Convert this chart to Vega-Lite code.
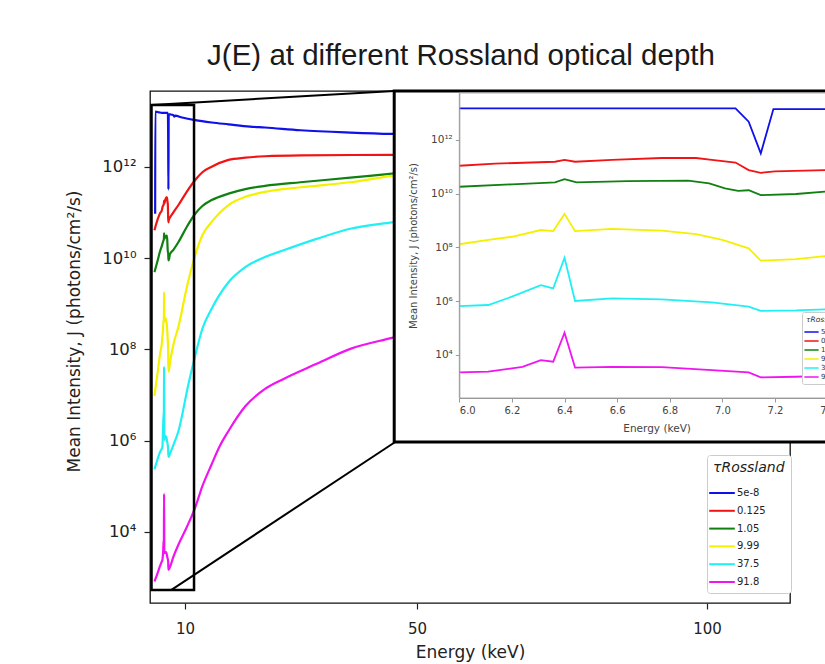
{
  "$schema": "https://vega.github.io/schema/vega-lite/v6.json",
  "width": 640,
  "height": 512,
  "autosize": {"type": "none"},
  "padding": {"left": 150, "top": 91, "right": 35, "bottom": 61},
  "background": "#ffffff",
  "config": {
    "font": "DejaVu Sans",
    "view": {"stroke": "#111111", "strokeWidth": 1.3, "fill": "#ffffff"},
    "axis": {"grid": false, "labelFont": "DejaVu Sans", "titleFont": "DejaVu Sans", "titleFontWeight": "normal", "labelColor": "#222222", "titleColor": "#222222", "tickColor": "#222222", "domainColor": "#222222"},
    "legend": {"labelFont": "DejaVu Sans", "titleFont": "DejaVu Sans"}
  },
  "title": {"text": "J(E) at different Rossland optical depth", "font": "Liberation Sans", "fontSize": 29.5, "fontWeight": "normal", "color": "#1a1a1a", "anchor": "middle", "frame": "group", "dx": -9, "offset": 18},
  "datasets": {
    "spectra": [
      {"tau": "5e-8", "E": 4.86, "J": 9.33e10}, {"tau": "5e-8", "E": 4.88, "J": 1.62e13}, {"tau": "5e-8", "E": 5.5, "J": 1.56e13}, {"tau": "5e-8", "E": 6.0, "J": 1.51e13}, {"tau": "5e-8", "E": 6.4, "J": 1.51e13}, {"tau": "5e-8", "E": 7.05, "J": 1.51e13}, {"tau": "5e-8", "E": 7.10, "J": 4.79e12}, {"tau": "5e-8", "E": 7.146, "J": 3.16e11}, {"tau": "5e-8", "E": 7.194, "J": 1.41e13}, {"tau": "5e-8", "E": 7.5, "J": 1.40e13}, {"tau": "5e-8", "E": 8.0, "J": 1.35e13}, {"tau": "5e-8", "E": 8.15, "J": 1.25e13}, {"tau": "5e-8", "E": 8.3, "J": 1.32e13}, {"tau": "5e-8", "E": 9.5, "J": 1.20e13}, {"tau": "5e-8", "E": 11.76, "J": 1.05e13}, {"tau": "5e-8", "E": 14.6, "J": 9.33e12}, {"tau": "5e-8", "E": 17.5, "J": 8.51e12}, {"tau": "5e-8", "E": 21.2, "J": 7.59e12}, {"tau": "5e-8", "E": 23.8, "J": 7.24e12}, {"tau": "5e-8", "E": 29.9, "J": 6.31e12}, {"tau": "5e-8", "E": 38.5, "J": 5.62e12}, {"tau": "5e-8", "E": 45.7, "J": 5.25e12}, {"tau": "5e-8", "E": 60, "J": 5.01e12},

      {"tau": "0.125", "E": 4.74, "J": 4.07e10}, {"tau": "0.125", "E": 5.3, "J": 7.08e10}, {"tau": "0.125", "E": 5.7, "J": 9.55e10}, {"tau": "0.125", "E": 6.0, "J": 1.10e11}, {"tau": "0.125", "E": 6.136, "J": 1.32e11}, {"tau": "0.125", "E": 6.364, "J": 1.55e11}, {"tau": "0.125", "E": 6.40, "J": 1.82e11}, {"tau": "0.125", "E": 6.44, "J": 1.55e11}, {"tau": "0.125", "E": 6.58, "J": 1.82e11}, {"tau": "0.125", "E": 6.77, "J": 2.14e11}, {"tau": "0.125", "E": 6.90, "J": 2.14e11}, {"tau": "0.125", "E": 6.96, "J": 1.82e11}, {"tau": "0.125", "E": 7.05, "J": 1.45e11}, {"tau": "0.125", "E": 7.10, "J": 7.59e10}, {"tau": "0.125", "E": 7.146, "J": 6.03e10}, {"tau": "0.125", "E": 7.2, "J": 6.76e10}, {"tau": "0.125", "E": 7.39, "J": 7.59e10}, {"tau": "0.125", "E": 8.0, "J": 1.0e11}, {"tau": "0.125", "E": 8.88, "J": 1.45e11}, {"tau": "0.125", "E": 10.3, "J": 2.82e11}, {"tau": "0.125", "E": 11.76, "J": 5.13e11}, {"tau": "0.125", "E": 13.0, "J": 7.59e11}, {"tau": "0.125", "E": 14.6, "J": 1.0e12}, {"tau": "0.125", "E": 17.5, "J": 1.41e12}, {"tau": "0.125", "E": 20.4, "J": 1.58e12}, {"tau": "0.125", "E": 23.8, "J": 1.70e12}, {"tau": "0.125", "E": 30, "J": 1.78e12}, {"tau": "0.125", "E": 45.7, "J": 1.82e12}, {"tau": "0.125", "E": 60, "J": 1.86e12},

      {"tau": "1.05", "E": 4.74, "J": 4.90e9}, {"tau": "1.05", "E": 5.3, "J": 8.91e9}, {"tau": "1.05", "E": 5.7, "J": 1.41e10}, {"tau": "1.05", "E": 6.0, "J": 1.82e10}, {"tau": "1.05", "E": 6.2, "J": 2.24e10}, {"tau": "1.05", "E": 6.364, "J": 2.63e10}, {"tau": "1.05", "E": 6.40, "J": 3.47e10}, {"tau": "1.05", "E": 6.446, "J": 2.63e10}, {"tau": "1.05", "E": 6.64, "J": 2.95e10}, {"tau": "1.05", "E": 6.87, "J": 3.09e10}, {"tau": "1.05", "E": 6.95, "J": 2.45e10}, {"tau": "1.05", "E": 7.01, "J": 1.58e10}, {"tau": "1.05", "E": 7.06, "J": 1.29e10}, {"tau": "1.05", "E": 7.10, "J": 1.35e10}, {"tau": "1.05", "E": 7.146, "J": 8.91e9}, {"tau": "1.05", "E": 7.28, "J": 9.77e9}, {"tau": "1.05", "E": 7.39, "J": 1.20e10}, {"tau": "1.05", "E": 8.0, "J": 1.51e10}, {"tau": "1.05", "E": 8.88, "J": 2.24e10}, {"tau": "1.05", "E": 10.3, "J": 4.79e10}, {"tau": "1.05", "E": 11.76, "J": 9.33e10}, {"tau": "1.05", "E": 13.0, "J": 1.38e11}, {"tau": "1.05", "E": 14.6, "J": 1.86e11}, {"tau": "1.05", "E": 17.5, "J": 2.57e11}, {"tau": "1.05", "E": 20.4, "J": 3.24e11}, {"tau": "1.05", "E": 23.8, "J": 3.80e11}, {"tau": "1.05", "E": 29.9, "J": 4.57e11}, {"tau": "1.05", "E": 38.5, "J": 5.75e11}, {"tau": "1.05", "E": 45.7, "J": 7.08e11}, {"tau": "1.05", "E": 60, "J": 1.0e12},

      {"tau": "9.99", "E": 4.74, "J": 9.55e6}, {"tau": "9.99", "E": 5.3, "J": 3.16e7}, {"tau": "9.99", "E": 5.7, "J": 7.94e7}, {"tau": "9.99", "E": 6.0, "J": 1.32e8}, {"tau": "9.99", "E": 6.11, "J": 1.91e8}, {"tau": "9.99", "E": 6.2, "J": 2.51e8}, {"tau": "9.99", "E": 6.31, "J": 4.47e8}, {"tau": "9.99", "E": 6.357, "J": 4.07e8}, {"tau": "9.99", "E": 6.40, "J": 1.78e9}, {"tau": "9.99", "E": 6.44, "J": 4.07e8}, {"tau": "9.99", "E": 6.58, "J": 4.90e8}, {"tau": "9.99", "E": 6.77, "J": 4.27e8}, {"tau": "9.99", "E": 6.90, "J": 3.16e8}, {"tau": "9.99", "E": 7.00, "J": 1.91e8}, {"tau": "9.99", "E": 7.10, "J": 9.33e7}, {"tau": "9.99", "E": 7.146, "J": 3.24e7}, {"tau": "9.99", "E": 7.28, "J": 3.72e7}, {"tau": "9.99", "E": 7.39, "J": 4.79e7}, {"tau": "9.99", "E": 8.0, "J": 1.26e8}, {"tau": "9.99", "E": 8.88, "J": 3.16e8}, {"tau": "9.99", "E": 10.3, "J": 2.24e9}, {"tau": "9.99", "E": 11.76, "J": 1.15e10}, {"tau": "9.99", "E": 13.0, "J": 3.16e10}, {"tau": "9.99", "E": 14.6, "J": 6.17e10}, {"tau": "9.99", "E": 17.5, "J": 1.45e11}, {"tau": "9.99", "E": 20.4, "J": 2.19e11}, {"tau": "9.99", "E": 23.8, "J": 2.82e11}, {"tau": "9.99", "E": 29.9, "J": 3.55e11}, {"tau": "9.99", "E": 38.5, "J": 4.57e11}, {"tau": "9.99", "E": 45.7, "J": 6.31e11}, {"tau": "9.99", "E": 60, "J": 8.91e11},

      {"tau": "37.5", "E": 4.74, "J": 2.34e5}, {"tau": "37.5", "E": 5.3, "J": 3.98e5}, {"tau": "37.5", "E": 5.7, "J": 5.62e5}, {"tau": "37.5", "E": 6.0, "J": 6.61e5}, {"tau": "37.5", "E": 6.11, "J": 7.24e5}, {"tau": "37.5", "E": 6.2, "J": 1.48e6}, {"tau": "37.5", "E": 6.31, "J": 3.98e6}, {"tau": "37.5", "E": 6.357, "J": 3.02e6}, {"tau": "37.5", "E": 6.40, "J": 4.17e7}, {"tau": "37.5", "E": 6.44, "J": 1.02e6}, {"tau": "37.5", "E": 6.58, "J": 1.29e6}, {"tau": "37.5", "E": 6.77, "J": 1.17e6}, {"tau": "37.5", "E": 6.96, "J": 9.12e5}, {"tau": "37.5", "E": 7.10, "J": 6.31e5}, {"tau": "37.5", "E": 7.146, "J": 4.37e5}, {"tau": "37.5", "E": 7.28, "J": 4.57e5}, {"tau": "37.5", "E": 7.39, "J": 5.01e5}, {"tau": "37.5", "E": 8.0, "J": 7.94e5}, {"tau": "37.5", "E": 8.88, "J": 1.62e6}, {"tau": "37.5", "E": 10.6, "J": 1.74e7}, {"tau": "37.5", "E": 11.76, "J": 7.24e7}, {"tau": "37.5", "E": 13.0, "J": 2.82e8}, {"tau": "37.5", "E": 14.6, "J": 7.76e8}, {"tau": "37.5", "E": 17.5, "J": 2.95e9}, {"tau": "37.5", "E": 20.4, "J": 6.31e9}, {"tau": "37.5", "E": 23.8, "J": 1.05e10}, {"tau": "37.5", "E": 27.0, "J": 1.48e10}, {"tau": "37.5", "E": 32.7, "J": 2.63e10}, {"tau": "37.5", "E": 38.5, "J": 4.37e10}, {"tau": "37.5", "E": 45.7, "J": 6.03e10}, {"tau": "37.5", "E": 60, "J": 1.0e11},

      {"tau": "91.8", "E": 4.74, "J": 813}, {"tau": "91.8", "E": 5.3, "J": 1260}, {"tau": "91.8", "E": 5.7, "J": 1780}, {"tau": "91.8", "E": 6.0, "J": 2240}, {"tau": "91.8", "E": 6.11, "J": 2400}, {"tau": "91.8", "E": 6.2, "J": 3160}, {"tau": "91.8", "E": 6.24, "J": 3630}, {"tau": "91.8", "E": 6.31, "J": 6460}, {"tau": "91.8", "E": 6.357, "J": 5620}, {"tau": "91.8", "E": 6.40, "J": 67600}, {"tau": "91.8", "E": 6.44, "J": 3390}, {"tau": "91.8", "E": 6.58, "J": 3630}, {"tau": "91.8", "E": 6.77, "J": 3550}, {"tau": "91.8", "E": 6.96, "J": 2750}, {"tau": "91.8", "E": 7.10, "J": 2240}, {"tau": "91.8", "E": 7.146, "J": 1480}, {"tau": "91.8", "E": 7.28, "J": 1550}, {"tau": "91.8", "E": 7.39, "J": 1660}, {"tau": "91.8", "E": 8.0, "J": 2820}, {"tau": "91.8", "E": 8.88, "J": 5250}, {"tau": "91.8", "E": 10.3, "J": 12600}, {"tau": "91.8", "E": 11.76, "J": 33900}, {"tau": "91.8", "E": 13.0, "J": 100000}, {"tau": "91.8", "E": 14.6, "J": 302000}, {"tau": "91.8", "E": 16.0, "J": 759000}, {"tau": "91.8", "E": 17.5, "J": 1.62e6}, {"tau": "91.8", "E": 20.4, "J": 5.62e6}, {"tau": "91.8", "E": 23.8, "J": 1.35e7}, {"tau": "91.8", "E": 27.0, "J": 2.24e7}, {"tau": "91.8", "E": 32.7, "J": 4.79e7}, {"tau": "91.8", "E": 38.5, "J": 1.02e8}, {"tau": "91.8", "E": 45.7, "J": 1.78e8}, {"tau": "91.8", "E": 60, "J": 5.01e8}
    ]
  },
  "layer": [
    {
      "encoding": {
        "x": {"field": "E", "type": "quantitative", "scale": {"domain": [3.97, 114.3], "nice": false, "zero": false},
          "axis": {"title": "Energy (keV)", "orient": "bottom", "values": [10, 50, 100], "domain": false, "tickSize": 6, "tickWidth": 1.2, "labelFontSize": 15, "titleFontSize": 17, "labelPadding": 12, "titlePadding": 8}},
        "y": {"field": "J", "type": "quantitative", "scale": {"type": "log", "domain": [275, 4.57e13], "nice": false},
          "axis": {"title": "Mean Intensity, J (photons/cm²/s)", "orient": "left", "values": [10000, 1000000, 100000000, 10000000000, 1000000000000], "labelExpr": "datum.value > 5e11 ? '10¹²' : datum.value > 5e9 ? '10¹⁰' : datum.value > 5e7 ? '10⁸' : datum.value > 5e5 ? '10⁶' : '10⁴'", "domain": false, "tickSize": 6, "tickWidth": 1.2, "labelFontSize": 16.5, "titleFontSize": 17, "labelPadding": 8, "titlePadding": 18, "titleY": 240}}
      },
      "layer": [
        {
          "data": {"name": "spectra"},
          "mark": {"type": "line", "strokeWidth": 2.2, "interpolate": "monotone"},
          "encoding": {
            "color": {"field": "tau", "type": "nominal",
              "scale": {"domain": ["5e-8", "0.125", "1.05", "9.99", "37.5", "91.8"], "range": ["#1010e8", "#f01414", "#108010", "#f4f000", "#20f0f4", "#f014f0"]},
              "legend": {"title": "τRossland", "orient": "none", "legendX": 557, "legendY": 364, "symbolType": "M-1.6,0H1.6", "symbolSize": 256, "symbolStrokeWidth": 2, "labelFontSize": 10, "labelColor": "#222222", "titleFontSize": 14, "titleFontStyle": "italic", "titleFontWeight": "normal", "titleColor": "#222222", "titlePadding": 9, "padding": 6, "rowPadding": 3.8, "labelOffset": 6, "strokeColor": "#cccccc", "fillColor": "#ffffff", "cornerRadius": 3}}
          }
        },
        {
          "data": {"values": [{"E": 4.23, "E2": 11.56, "J": 528, "J2": 2.26e13}]},
          "mark": {"type": "rect", "filled": false, "stroke": "#000000", "strokeWidth": 2.5},
          "encoding": {"x2": {"field": "E2"}, "y2": {"field": "J2"}}
        },
        {
          "data": {"values": [{"E": 4.23, "J": 2.26e13, "E2": 46.07, "J2": 4.57e13}, {"E": 7.6, "J": 528, "E2": 46.24, "J2": 9.3e5}]},
          "mark": {"type": "rule", "stroke": "#000000", "strokeWidth": 2},
          "encoding": {"x2": {"field": "E2"}, "y2": {"field": "J2"}}
        },
        {
          "data": {"values": [{"E": 46.07, "E2": 200, "J": 9.3e5, "J2": 4.57e13}]},
          "mark": {"type": "rect", "fill": "#ffffff", "stroke": "#000000", "strokeWidth": 3},
          "encoding": {"x2": {"field": "E2"}, "y2": {"field": "J2"}}
        }
      ]
    },
    {
      "encoding": {
        "x": {"field": "E", "type": "quantitative", "scale": {"domain": [6.0, 7.5], "range": [309.3, 703.9], "nice": false, "zero": false},
          "axis": {"title": "Energy (keV)", "orient": "bottom", "offset": -205, "zindex": 1, "values": [6.0, 6.2, 6.4, 6.6, 6.8, 7.0, 7.2, 7.4], "format": ".1f", "labelFontSize": 10, "titleFontSize": 10.5, "tickSize": 4, "domainColor": "#999999", "tickColor": "#999999", "labelColor": "#444444", "titleColor": "#444444", "labelPadding": 3, "titlePadding": 8}},
        "y": {"field": "J", "type": "quantitative", "scale": {"type": "log", "domain": [251.2, 5.62e13], "range": [307, 1.97], "nice": false},
          "axis": {"title": "Mean Intensity, J (photons/cm²/s)", "orient": "left", "offset": -309.3, "zindex": 1, "values": [10000, 1000000, 100000000, 10000000000, 1000000000000], "labelExpr": "datum.value > 5e11 ? '10¹²' : datum.value > 5e9 ? '10¹⁰' : datum.value > 5e7 ? '10⁸' : datum.value > 5e5 ? '10⁶' : '10⁴'", "labelFontSize": 10.5, "titleFontSize": 10, "tickSize": 4, "domainColor": "#999999", "tickColor": "#999999", "labelColor": "#444444", "titleColor": "#444444", "labelPadding": 3, "titlePadding": 12}}
      },
      "layer": [
        {
          "data": {"values": [{"E": 6.0, "E2": 7.6, "J": 251.2, "J2": 5.62e13}]},
          "mark": {"type": "rect", "filled": false, "stroke": "#aaaaaa", "strokeWidth": 1},
          "encoding": {"x2": {"field": "E2"}, "y2": {"field": "J2"}}
        },
        {
          "data": {"name": "spectra"},
          "transform": [{"filter": "datum.E >= 6 && datum.E <= 8"}],
          "mark": {"type": "line", "strokeWidth": 1.8},
          "encoding": {
            "color": {"field": "tau", "type": "nominal",
              "scale": {"domain": ["5e-8", "0.125", "1.05", "9.99", "37.5", "91.8"], "range": ["#1010e8", "#f01414", "#108010", "#f4f000", "#20f0f4", "#f014f0"]},
              "legend": {"title": "τRossland", "orient": "none", "legendX": 652, "legendY": 221, "symbolType": "M-1.5,0H1.5", "symbolSize": 90, "symbolStrokeWidth": 1.5, "labelFontSize": 7, "labelColor": "#333333", "titleFontSize": 7.5, "titleFontStyle": "italic", "titleFontWeight": "normal", "titleColor": "#333333", "titlePadding": 3, "padding": 4, "rowPadding": 0, "labelOffset": 4, "strokeColor": "#cccccc", "fillColor": "#ffffff", "cornerRadius": 2}}
          }
        }
      ]
    }
  ],
  "resolve": {"scale": {"x": "independent", "y": "independent", "color": "independent"}}
}
